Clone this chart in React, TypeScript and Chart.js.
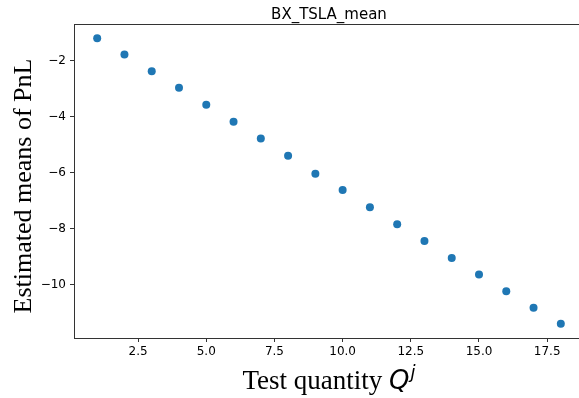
import React, { useEffect, useRef } from "react";
import { Chart, registerables } from "chart.js";

Chart.register(...registerables);

const quantities = [1, 2, 3, 4, 5, 6, 7, 8, 9, 10, 11, 12, 13, 14, 15, 16, 17, 18];
const meanPnL = [
  -1.21, -1.79, -2.39, -2.98, -3.58, -4.19, -4.79, -5.4, -6.05, -6.63, -7.24, -7.85,
  -8.45, -9.05, -9.64, -10.24, -10.83, -11.4,
];
const xTickValues = [2.5, 5.0, 7.5, 10.0, 12.5, 15.0, 17.5];
const yTickValues = [-10, -8, -6, -4, -2];
const chartTitle = "BX_TSLA_mean";
const yTitle = "Estimated means of PnL";
const xTitleText = "Test quantity ";

const W = 590;
const H = 398;

const decorPlugin = {
  id: "decor",
  afterDraw(chart: any) {
    const { ctx, chartArea } = chart;
    const cx = (chartArea.left + chartArea.right) / 2;
    ctx.save();
    // top spine
    ctx.strokeStyle = "#333";
    ctx.lineWidth = 1;
    ctx.beginPath();
    ctx.moveTo(chartArea.left, chartArea.top + 0.5);
    ctx.lineTo(chartArea.right, chartArea.top + 0.5);
    ctx.stroke();
    // title
    ctx.fillStyle = "#000";
    ctx.font = "15px 'DejaVu Sans'";
    ctx.textAlign = "center";
    ctx.textBaseline = "alphabetic";
    ctx.fillText(chartTitle, cx, 19);
    // x title with math part
    const fMain = "27px 'Liberation Serif'";
    const fQ = "italic 26px 'DejaVu Sans'";
    const fJ = "italic 18px 'DejaVu Sans'";
    ctx.font = fMain;
    const w1 = ctx.measureText(xTitleText).width;
    ctx.font = fQ;
    const w2 = ctx.measureText("Q").width;
    ctx.font = fJ;
    const w3 = ctx.measureText("j").width;
    const total = w1 + w2 + w3 + 1;
    let x = cx - total / 2;
    const base = 389;
    ctx.textAlign = "left";
    ctx.font = fMain;
    ctx.fillText(xTitleText, x, base);
    x += w1;
    ctx.font = fQ;
    ctx.fillText("Q", x, base);
    x += w2 + 1;
    ctx.font = fJ;
    ctx.fillText("j", x, base - 11);
    // y title
    const cy = (chartArea.top + chartArea.bottom) / 2 + 5;
    ctx.translate(31, cy);
    ctx.rotate(-Math.PI / 2);
    ctx.font = "26px 'Liberation Serif'";
    ctx.textAlign = "center";
    ctx.fillText(yTitle, 0, 0);
    ctx.restore();
  },
};

export default function App() {
  const ref = useRef<HTMLCanvasElement | null>(null);
  useEffect(() => {
    if (!ref.current) return;
    const tickFont = { family: "'DejaVu Sans'", size: 12 };
    const chart = new Chart(ref.current, {
      type: "scatter",
      data: {
        datasets: [
          {
            data: quantities.map((q, i) => ({ x: q, y: meanPnL[i] })),
            backgroundColor: "#1f77b4",
            borderColor: "#1f77b4",
            pointRadius: 4,
            pointBorderWidth: 0,
          },
        ],
      },
      options: {
        responsive: false,
        animation: false,
        layout: { padding: { top: 24, right: 6, left: 0, bottom: 0 } },
        plugins: {
          legend: { display: false },
          tooltip: { enabled: false },
          title: { display: false },
        },
        scales: {
          x: {
            type: "linear",
            min: 0.15,
            max: 18.85,
            afterBuildTicks: (s: any) => {
              s.ticks = xTickValues.map((v) => ({ value: v }));
            },
            afterFit: (s: any) => {
              s.height = 60;
            },
            ticks: {
              font: tickFont,
              color: "#000",
              padding: 3,
              maxRotation: 0,
              autoSkip: false,
              callback: (v: any) => Number(v).toFixed(1),
            },
            grid: {
              drawOnChartArea: false,
              drawTicks: true,
              tickLength: 4,
              color: "#333",
            },
            border: { display: true, color: "#333", width: 1 },
          },
          y: {
            type: "linear",
            min: -11.91,
            max: -0.7,
            afterBuildTicks: (s: any) => {
              s.ticks = yTickValues.map((v) => ({ value: v }));
            },
            afterFit: (s: any) => {
              s.width = 74;
            },
            ticks: {
              font: tickFont,
              color: "#000",
              padding: 4,
              autoSkip: false,
              callback: (v: any) => (Number(v) < 0 ? "\u2212" + Math.abs(Number(v)) : String(v)),
            },
            grid: {
              drawOnChartArea: false,
              drawTicks: true,
              tickLength: 4,
              color: "#333",
            },
            border: { display: true, color: "#333", width: 1 },
          },
        },
      },
      plugins: [decorPlugin],
    });
    return () => chart.destroy();
  }, []);
  return (
    <div
      style={{
        position: "fixed",
        left: 0,
        top: 0,
        width: 579,
        height: 398,
        overflow: "hidden",
        background: "#fff",
      }}
    >
      <canvas ref={ref} width={W} height={H} style={{ display: "block", width: W, height: H }} />
    </div>
  );
}
